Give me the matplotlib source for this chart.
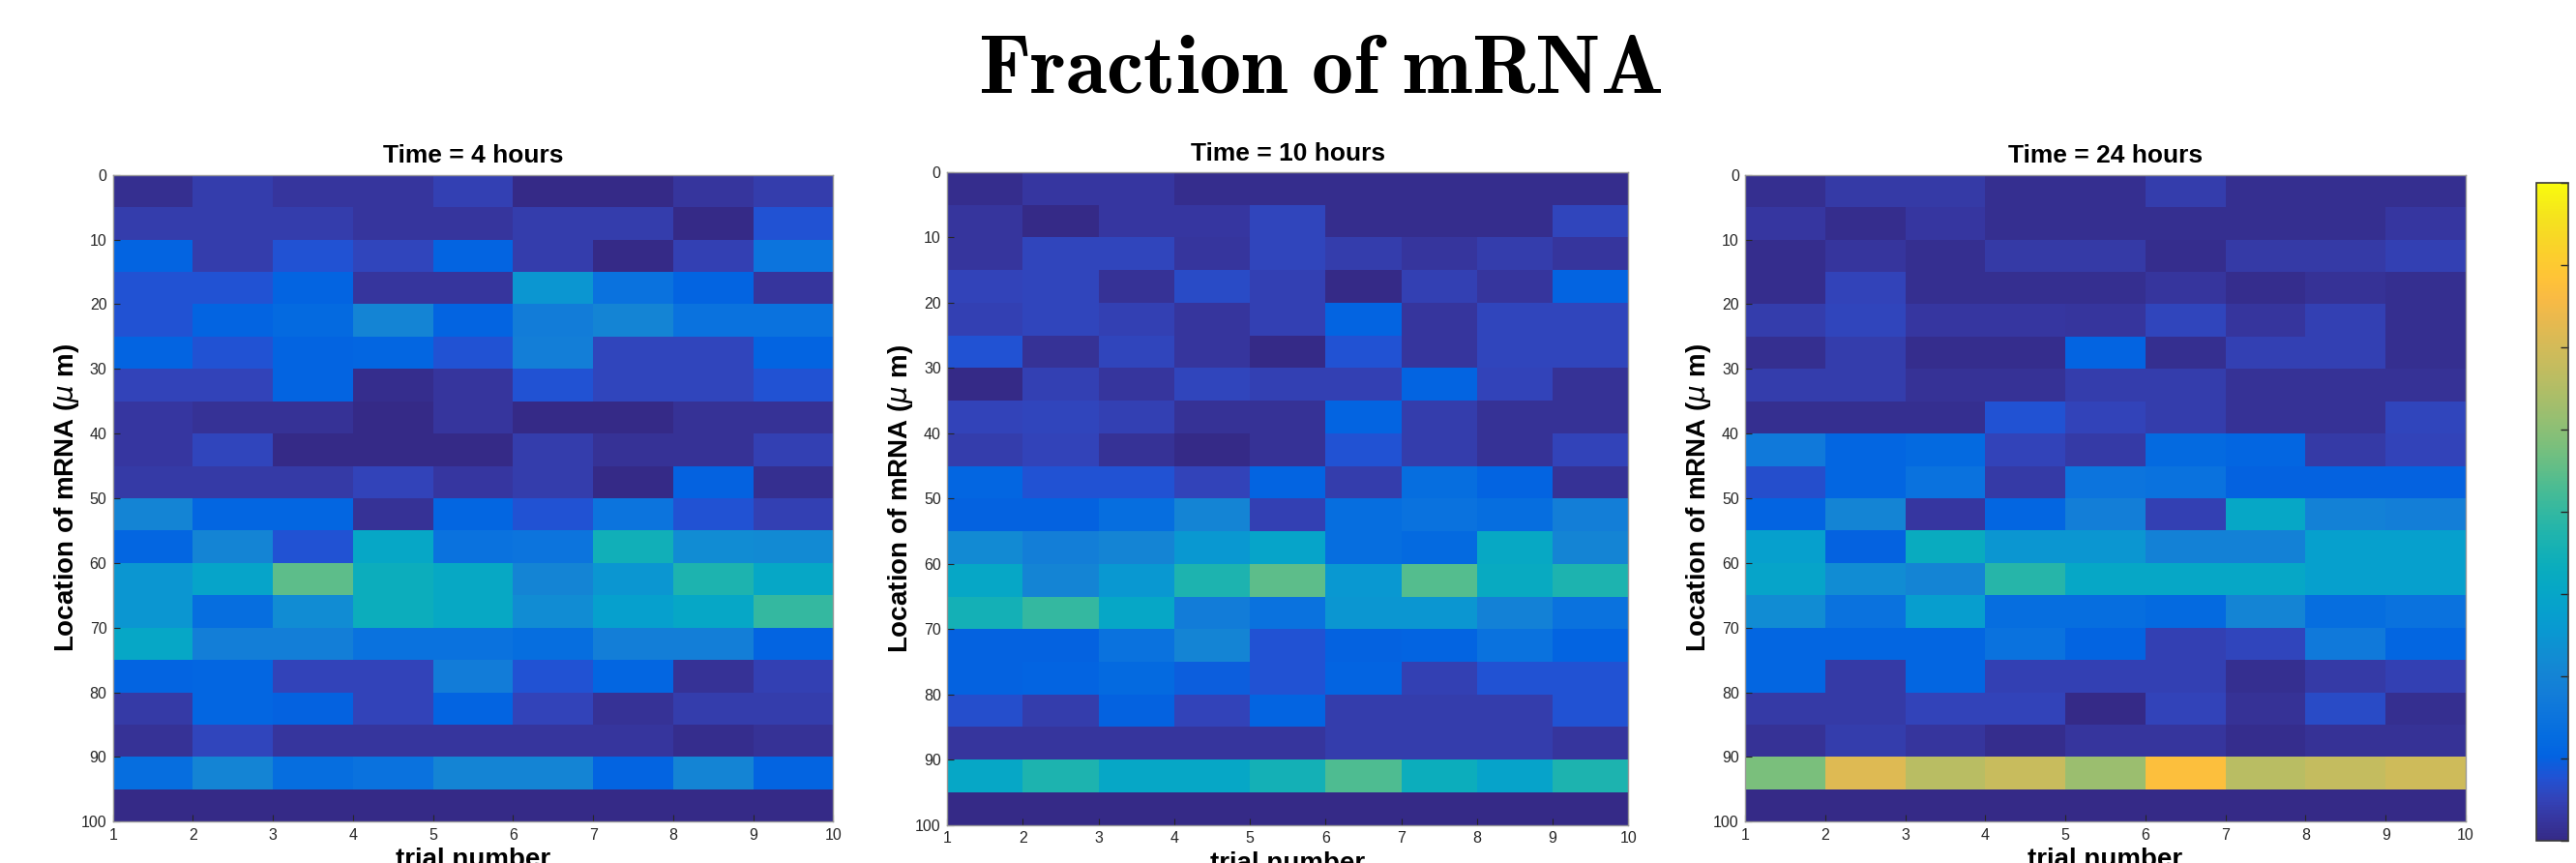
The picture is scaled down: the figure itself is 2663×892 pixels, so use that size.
import numpy as np
import matplotlib
matplotlib.use("Agg")
import matplotlib.pyplot as plt
from matplotlib.colors import LinearSegmentedColormap

# ---------------- data ----------------
trials = [1, 2, 3, 4, 5, 6, 7, 8, 9, 10]
locations = [0, 5, 10, 15, 20, 25, 30, 35, 40, 45, 50, 55, 60, 65, 70, 75, 80, 85, 90, 95, 100]
panel_titles = ["Time = 4 hours", "Time = 10 hours", "Time = 24 hours"]

frac_4h = [
    [.015, .048, .03, .03, .055, 0, 0, .03, .048],
    [.048, .048, .048, .03, .03, .048, .048, 0, .095],
    [.13, .048, .095, .07, .13, .048, 0, .055, .19],
    [.095, .095, .13, .03, .03, .31, .18, .13, .03],
    [.095, .13, .15, .25, .13, .22, .25, .18, .18],
    [.13, .095, .13, .14, .095, .23, .07, .07, .13],
    [.063, .063, .13, .01, .03, .095, .07, .07, .095],
    [.035, .02, .02, 0, .03, 0, 0, .02, .02],
    [.035, .07, 0, 0, 0, .048, .02, .02, .055],
    [.04, .04, .04, .063, .035, .048, 0, .127, .015],
    [.25, .14, .14, .02, .14, .095, .19, .095, .055],
    [.14, .25, .095, .38, .18, .19, .43, .28, .27],
    [.31, .37, .56, .42, .39, .25, .31, .46, .38],
    [.31, .165, .28, .42, .39, .28, .35, .38, .5],
    [.38, .23, .23, .18, .18, .165, .23, .23, .13],
    [.13, .14, .063, .063, .22, .095, .14, .02, .055],
    [.04, .14, .127, .063, .13, .063, .02, .048, .048],
    [.02, .07, .03, .03, .03, .03, .03, .01, .02],
    [.165, .25, .165, .18, .25, .25, .13, .25, .13],
    [0, 0, 0, 0, 0, 0, 0, 0, 0],
]

frac_10h = [
    [.01, .035, .035, .01, .01, .01, .01, .01, .01],
    [.03, 0, .035, .035, .07, .01, .01, .01, .07],
    [.03, .07, .07, .03, .07, .048, .03, .048, .03],
    [.063, .07, .02, .08, .055, 0, .055, .03, .13],
    [.055, .07, .055, .03, .055, .13, .03, .07, .07],
    [.095, .02, .07, .03, 0, .095, .03, .07, .07],
    [0, .055, .03, .07, .055, .055, .13, .063, .02],
    [.063, .07, .055, .02, .02, .13, .048, .02, .02],
    [.048, .063, .02, 0, .02, .095, .048, .02, .063],
    [.14, .095, .095, .063, .13, .048, .165, .13, .02],
    [.127, .127, .165, .25, .055, .165, .18, .165, .23],
    [.27, .23, .25, .32, .37, .165, .15, .39, .25],
    [.38, .25, .32, .46, .56, .32, .55, .4, .46],
    [.44, .5, .38, .22, .18, .31, .31, .24, .18],
    [.127, .127, .18, .25, .095, .127, .13, .18, .13],
    [.127, .13, .15, .12, .095, .13, .055, .095, .095],
    [.087, .048, .127, .063, .13, .048, .048, .048, .095],
    [.03, .03, .03, .03, .03, .048, .048, .048, .03],
    [.38, .46, .38, .38, .44, .54, .42, .36, .46],
    [0, 0, 0, 0, 0, 0, 0, 0, 0],
]

frac_24h = [
    [.015, .04, .04, .015, .015, .048, .015, .015, .015],
    [.035, .01, .035, .015, .015, .015, .015, .015, .035],
    [.01, .03, .015, .04, .04, .01, .04, .04, .055],
    [.01, .063, .015, .015, .015, .03, .01, .02, .015],
    [.048, .07, .035, .035, .03, .07, .03, .055, .015],
    [.015, .048, .01, .01, .13, .015, .055, .055, .015],
    [.048, .048, .02, .02, .048, .048, .02, .02, .02],
    [.015, .015, .015, .095, .063, .048, .02, .02, .07],
    [.21, .14, .15, .063, .04, .15, .14, .04, .063],
    [.087, .14, .18, .04, .19, .18, .127, .127, .127],
    [.13, .25, .035, .14, .23, .055, .38, .24, .23],
    [.35, .127, .41, .31, .31, .24, .24, .35, .35],
    [.37, .28, .25, .48, .38, .38, .38, .35, .35],
    [.28, .18, .34, .165, .165, .15, .25, .165, .18],
    [.14, .14, .14, .18, .13, .055, .07, .21, .14],
    [.14, .04, .14, .055, .055, .055, .015, .04, .055],
    [.04, .04, .063, .063, 0, .063, .02, .08, .015],
    [.02, .048, .03, .01, .03, .03, .01, .02, .02],
    [.6, .77, .7, .73, .65, .84, .7, .72, .74],
    [0, 0, 0, 0, 0, 0, 0, 0, 0],
]

# ---------------- parula colormap ----------------
_parula_idx = [0, 2, 4, 6, 8, 10, 12, 14, 16, 18, 20, 22, 24, 26, 28, 30, 32, 34,
               36, 38, 40, 42, 44, 46, 48, 50, 52, 54, 56, 58, 60, 63]
_parula_rgb = [
    [0.2081, 0.1663, 0.5292], [0.2123, 0.2138, 0.6270], [0.1959, 0.2645, 0.7279],
    [0.1253, 0.3242, 0.8303], [0.0117, 0.3875, 0.8820], [0.0165, 0.4266, 0.8786],
    [0.0498, 0.4586, 0.8641], [0.0723, 0.4887, 0.8467], [0.0793, 0.5200, 0.8312],
    [0.0641, 0.5570, 0.8240], [0.0343, 0.5966, 0.8199], [0.0239, 0.6287, 0.8038],
    [0.0228, 0.6535, 0.7768], [0.0384, 0.6743, 0.7436], [0.0843, 0.6928, 0.7062],
    [0.1453, 0.7098, 0.6646], [0.2178, 0.7250, 0.6193], [0.3022, 0.7376, 0.5712],
    [0.3953, 0.7459, 0.5244], [0.4871, 0.7491, 0.4840], [0.5709, 0.7485, 0.4494],
    [0.6473, 0.7456, 0.4188], [0.7184, 0.7411, 0.3905], [0.7858, 0.7356, 0.3633],
    [0.8507, 0.7299, 0.3360], [0.9140, 0.7258, 0.3063], [0.9739, 0.7314, 0.2666],
    [0.9990, 0.7653, 0.2164], [0.9880, 0.8066, 0.1794], [0.9697, 0.8481, 0.1475],
    [0.9589, 0.8949, 0.1132], [0.9763, 0.9831, 0.0538],
]
parula = LinearSegmentedColormap.from_list(
    "parula", list(zip([i / 63 for i in _parula_idx], _parula_rgb)), N=256)

# ---------------- figure ----------------
W, H = 2663, 892
fig = plt.figure(figsize=(W / 100, H / 100), dpi=100)
fig.patch.set_facecolor("white")

def px_axes(x0, y0, x1, y1):
    return fig.add_axes([x0 / W, 1 - y1 / H, (x1 - x0) / W, (y1 - y0) / H])

boxes = [(116.7, 180.7, 861.3, 849.3),
         (979.0, 178.0, 1683.3, 852.7),
         (1804.0, 180.7, 2549.0, 849.3)]

datasets = [frac_4h, frac_10h, frac_24h]
tick_col = "#262626"
vmin, vmax = 0.0, 1.0
mesh = None
for box, data, title in zip(boxes, datasets, panel_titles):
    ax = px_axes(*box)
    mesh = ax.pcolormesh(trials, locations, np.array(data), cmap=parula,
                         vmin=vmin, vmax=vmax, shading="flat")
    ax.set_xlim(trials[0], trials[-1])
    ax.set_ylim(locations[-1], locations[0])
    ax.set_xticks(trials)
    ax.set_yticks(list(range(0, 101, 10)))
    ax.tick_params(direction="in", length=5, width=0.8, colors=tick_col,
                   labelsize=11.5, pad=4.5)
    for lab in ax.get_xticklabels() + ax.get_yticklabels():
        lab.set_family("Liberation Sans")
    for sp in ax.spines.values():
        sp.set_color("#9a9a9a")
        sp.set_linewidth(1.0)
    ax.set_title(title, fontsize=19, fontweight="bold", family="Liberation Sans",
                 pad=9)
    ax.set_xlabel("trial number", fontsize=20, fontweight="bold",
                  family="Liberation Sans", labelpad=4)
    ax.set_ylabel(r"Location of mRNA ($\mu$ m)", fontsize=20, fontweight="bold",
                  family="Liberation Sans", labelpad=0)

# colorbar
cax = px_axes(2622.3, 189.0, 2655.0, 869.0)
cb = fig.colorbar(mesh, cax=cax, ticks=np.linspace(vmin, vmax, 9))
cb.ax.tick_params(direction="in", length=6, width=1.0, colors=tick_col,
                  labelsize=13, pad=7)
cb.outline.set_edgecolor("#3a3a3a")
cb.outline.set_linewidth(1.2)

fig.text(1365 / W, 1 - 72 / H, r"$\mathbf{Fraction\ of\ mRNA}$",
         fontsize=62, ha="center", va="center", math_fontfamily="cm")

fig.savefig("out.png", dpi=100, facecolor="white")
